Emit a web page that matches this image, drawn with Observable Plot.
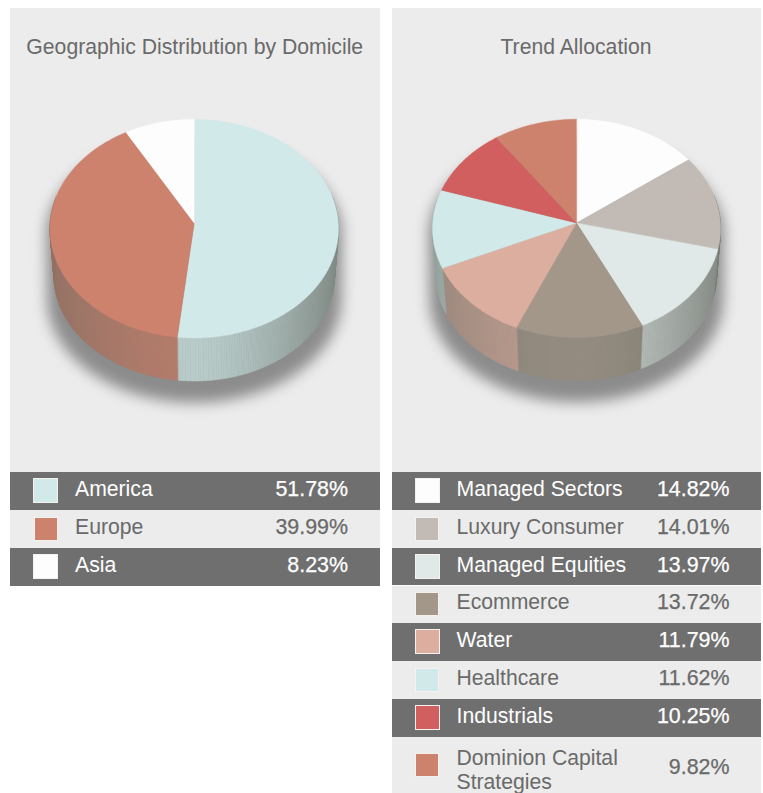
<!DOCTYPE html>
<html>
<head>
<meta charset="utf-8">
<script src="https://cdn.jsdelivr.net/npm/d3@7"></script>
<script src="https://cdn.jsdelivr.net/npm/@observablehq/plot@0.6"></script>
<style>
html,body{margin:0;padding:0;background:#fff;}
body{position:relative;width:763px;height:793px;overflow:hidden;font-family:"Liberation Sans",Arial,sans-serif;}
.panel{position:absolute;background:#ececec;}
.panel h2{position:absolute;left:0;right:0;top:27px;margin:0;text-align:center;font-weight:400;font-size:21.2px;line-height:24px;color:#6a6a6a;}
.panel svg{display:block;position:absolute;left:0;top:0;background:transparent;}
.row{position:absolute;font-size:21.2px;line-height:24px;}
.row .sw{position:absolute;box-sizing:border-box;border:1px solid #f4f1ee;}
.row .lb{position:absolute;white-space:pre;}
.row .vl{position:absolute;text-align:right;font-size:21.4px;-webkit-text-stroke:.25px currentColor;}
</style>
</head>
<body>
<div id="root"></div>
<script>
const geoTitle = "Geographic Distribution by Domicile";
const geoNames = ["America", "Europe", "Asia"];
const geoValues = [51.78, 39.99, 8.23];
const geoColors = ["#d1e9e9", "#cd826e", "#fdfdfd"];

const trendTitle = "Trend Allocation";
const trendNames = ["Managed Sectors", "Luxury Consumer", "Managed Equities", "Ecommerce", "Water", "Healthcare", "Industrials", "Dominion Capital\nStrategies"];
const trendValues = [14.82, 14.01, 13.97, 13.72, 11.79, 11.62, 10.25, 9.82];
const trendColors = ["#fdfdfd", "#c2bbb5", "#e0e9e7", "#a3978a", "#dbae9f", "#d1e9e9", "#d15f5f", "#cd826e"];

const geoRowTops = [472, 510, 548];
const trendRowTops = [472, 510, 548, 585.5, 623, 661, 699, 737, 793];

const K = 0.0502;          // perspective of the disc
const BOTTOM_SHIFT = 0.436, BOTTOM_SCALE_X = 0.972, BOTTOM_SCALE_Y = 0.96;
const mix = d3.interpolateRgb;
const WALL_DARK = "rgb(96,100,92)";

function rimTop(a) {
  const X = Math.sin(a), Y = -Math.cos(a), p = 1 / (1 - K * Y);
  return {x: X * p, y: Y * p};
}
function rimBottom(a) {
  const t = rimTop(a);
  return {x: t.x * BOTTOM_SCALE_X, y: t.y * BOTTOM_SCALE_Y + BOTTOM_SHIFT};
}
function wallTone(a) {
  const s = Math.sin(a);
  const base = 0.22;
  return s < 0 ? base + 0.3 * Math.pow(-s, 1.5) : base + 0.5 * Math.pow(s, 1.5);
}

function pie(names, values, colors, apexX) {
  const total = d3.sum(values);
  let acc = 0;
  const slices = values.map((v, i) => {
    const a0 = acc / total * 2 * Math.PI;
    acc += v;
    return {name: names[i], color: colors[i], a0, a1: acc / total * 2 * Math.PI};
  });
  const step = Math.PI / 180;
  const face = [], wall = [];
  slices.forEach((s, i) => {
    face.push({k: i, color: s.color, x: 0, y: 0});
    const n = Math.max(2, Math.ceil((s.a1 - s.a0) / step));
    for (let j = 0; j <= n; j++) {
      const a = s.a0 + (s.a1 - s.a0) * j / n;
      face.push({k: i, color: s.color, ...rimTop(a)});
    }
    for (let j = 0; j < n; j++) {
      const a = s.a0 + (s.a1 - s.a0) * j / n, b = s.a0 + (s.a1 - s.a0) * (j + 1) / n;
      if (Math.cos((a + b) / 2) > 0.25) continue;
      const c = mix(s.color, WALL_DARK)(wallTone((a + b) / 2));
      const k = i + "-" + j;
      [rimTop(a), rimTop(b), rimBottom(b), rimBottom(a)].forEach(p => wall.push({k, color: c, ...p}));
    }
  });
  const shadowPts = d3.range(0, 360, 3).flatMap(d => {
    const b = rimBottom(d * step), t = rimTop(d * step);
    return [[b.x * 1.05, b.y + 0.2], [t.x * 1.025, t.y * 0.9 + 0.06]];
  });
  const shadow = d3.polygonHull(shadowPts).map(([x, y]) => ({x, y}));
  return Plot.plot({
    width: 370, height: 464, margin: 0,
    x: {axis: null, domain: [-1, 1], range: [apexX - 144.3, apexX + 144.3]},
    y: {axis: null, domain: [-1, 1], range: [215 - 109.2, 215 + 109.2]},
    color: {type: "identity"},
    style: {background: "transparent"},
    marks: [
      Plot.line(shadow, {x: "x", y: "y", fill: "#8c8c8c", stroke: "none", curve: "linear-closed", imageFilter: "blur(7px)"}),
      Plot.line(wall, {x: "x", y: "y", z: "k", fill: "color", stroke: "color", strokeWidth: 0.5, curve: "linear-closed"}),
      Plot.line(face, {x: "x", y: "y", z: "k", fill: "color", stroke: "color", strokeWidth: 0.4, curve: "linear-closed"})
    ]
  });
}

const rootEl = document.getElementById("root");
function el(tag, cls, css, parent, text) {
  const e = document.createElement(tag);
  if (cls) e.className = cls;
  Object.assign(e.style, css);
  if (text != null) e.textContent = text;
  (parent || rootEl).appendChild(e);
  return e;
}

function panel(left, width, title, names, values, colors, apexX) {
  const p = el("div", "panel", {left: left + "px", top: "8px", width: width + "px", height: "464px"});
  p.appendChild(pie(names, values, colors, apexX));
  el("h2", "", {}, p, title);
}
function rows(left, width, tops, names, values, colors) {
  names.forEach((n, i) => {
    const y = tops[i], h = (tops[i + 1] ?? y + 38) - y - (i < names.length - 1 ? 0.5 : 0);
    const dark = i % 2 === 0;
    const r = el("div", "row", {left: left + "px", top: y + "px", width: width + "px", height: h + "px",
      background: dark ? "#6f6f6f" : "#ececec", color: dark ? "#ffffff" : "#6a6a6a"});
    const size = dark ? 25 : 24;
    const multi = n.includes("\n");
    el("div", "sw", {left: (dark ? 23 : 23.5) + "px", top: (h - size) / 2 + "px", width: size + "px", height: size + "px", background: colors[i]}, r);
    el("div", "lb", {left: "65px", top: (multi ? 9 : (h - 24) / 2 - 2) + "px"}, r, n);
    el("div", "vl", {right: (width - 338) + "px", top: (h - 24) / 2 + (multi ? 2 : -2) + "px"}, r, values[i].toFixed(2) + "%");
  });
}

panel(10, 369.5, geoTitle, geoNames, geoValues, geoColors, 184);
panel(391.5, 369, trendTitle, trendNames, trendValues, trendColors, 184.5);
rows(10, 369.5, geoRowTops.concat([585.5]), geoNames, geoValues, geoColors);
rows(391.5, 369, trendRowTops, trendNames, trendValues, trendColors);
</script>
</body>
</html>
